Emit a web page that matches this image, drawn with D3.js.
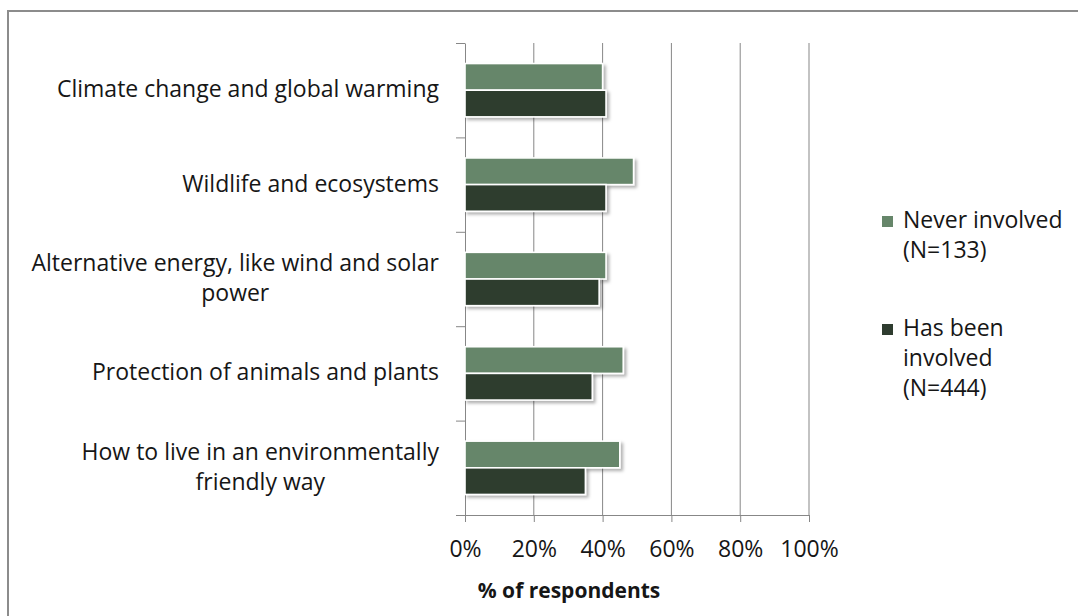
<!DOCTYPE html>
<html>
<head>
<meta charset="utf-8">
<script src="https://cdn.jsdelivr.net/npm/d3@7"></script>
<style>
  html, body { margin: 0; padding: 0; background: #fff; overflow: hidden; }
  svg { display: block; }
  text { font-family: "Open Sans", Lato, sans-serif; fill: #161616; }
</style>
</head>
<body>
<svg id="chart" width="1078" height="616"></svg>
<script>
// Topics asked about (top to bottom), each label split into its display lines
const categories = [
  "Climate change and global warming",
  "Wildlife and ecosystems",
  "Alternative energy, like wind and solar power",
  "Protection of animals and plants",
  "How to live in an environmentally friendly way"
];
const categoryLines = [
  ["Climate change and global warming"],
  ["Wildlife and ecosystems"],
  ["Alternative energy, like wind and solar", "power"],
  ["Protection of animals and plants"],
  ["How to live in an environmentally", "friendly way"]
];
const seriesNames = ["Never involved", "Has been involved"];
const seriesLegend = [["Never involved", "(N=133)"], ["Has been", "involved", "(N=444)"]];
const neverInvolved = [40, 49, 41, 46, 45];
const hasBeenInvolved = [41, 41, 39, 37, 35];
const xTicks = [0, 20, 40, 60, 80, 100];
const xTitle = "% of respondents";

const colors = ["#66866a", "#2e3c2f"];
const gridColor = "#878787";
const labelSize = "23px";

const svg = d3.select("#chart");

// outer frame
svg.append("rect")
  .attr("x", 8).attr("y", 11)
  .attr("width", 1200).attr("height", 800)
  .attr("fill", "none").attr("stroke", "#8c8c8c").attr("stroke-width", 2);

const defs = svg.append("defs");
const shadow = defs.append("filter").attr("id", "barShadow")
  .attr("x", "-10%").attr("y", "-30%").attr("width", "130%").attr("height", "180%");
shadow.append("feDropShadow")
  .attr("dx", 2.5).attr("dy", 2.5).attr("stdDeviation", 1.6)
  .attr("flood-color", "#000").attr("flood-opacity", 0.3);

const plot = { left: 465, right: 809, top: 43, bottom: 515 };

const x = d3.scaleLinear().domain([0, 100]).range([plot.left, plot.right]);
const y = d3.scaleBand().domain(categories).range([plot.top, plot.bottom]).paddingInner(0).paddingOuter(0);
const bandH = y.bandwidth();
const inner = d3.scaleBand().domain(seriesNames)
  .range([0, bandH]).paddingOuter(0.77).paddingInner(0);

// vertical gridlines
svg.append("g").selectAll("line")
  .data(xTicks.filter(d => d > 0))
  .join("line")
  .attr("x1", d => x(d)).attr("x2", d => x(d))
  .attr("y1", plot.top).attr("y2", plot.bottom)
  .attr("stroke", gridColor).attr("stroke-width", 1);

// category axis: ticks on band boundaries
const boundary = d3.scaleLinear().domain([0, categories.length]).range([plot.top, plot.bottom]);
const yAxis = svg.append("g")
  .attr("transform", `translate(${plot.left},0)`)
  .call(d3.axisLeft(boundary).ticks(categories.length).tickSize(9).tickFormat("").tickSizeOuter(0));
yAxis.selectAll("path, line").attr("stroke", gridColor).attr("stroke-width", 1);

// value axis
const xAxis = svg.append("g")
  .attr("transform", `translate(0,${plot.bottom})`)
  .call(d3.axisBottom(x).tickValues(xTicks).tickSize(7).tickSizeOuter(0).tickFormat(d => d + "%"));
xAxis.selectAll("path, line").attr("stroke", gridColor).attr("stroke-width", 1);
xAxis.selectAll("text")
  .attr("y", 42).attr("dy", 0)
  .style("font-size", labelSize).style("font-family", "'Open Sans', sans-serif").style("fill", "#161616");

// bars
const rows = categories.map((c, i) => ({ c, vals: [neverInvolved[i], hasBeenInvolved[i]] }));
const barG = svg.append("g");
rows.forEach(r => {
  r.vals.forEach((v, k) => {
    barG.append("rect")
      .attr("x", x(0))
      .attr("y", y(r.c) + inner(seriesNames[k]))
      .attr("width", x(v) - x(0))
      .attr("height", inner.bandwidth())
      .attr("fill", colors[k])
      .attr("stroke", "#fff").attr("stroke-width", 1.6)
      .attr("filter", "url(#barShadow)");
  });
});

// category labels: multi-line, centred lines, block right-aligned to the axis
const lineGap = 30;
categories.forEach((c, i) => {
  const lines = categoryLines[i];
  const g = svg.append("g");
  const cy = y(c) + bandH / 2;
  const texts = lines.map((t, j) => g.append("text")
    .attr("y", cy + 7 + (j - (lines.length - 1) / 2) * lineGap)
    .attr("text-anchor", "middle")
    .style("font-size", labelSize)
    .text(t));
  const w = d3.max(texts, t => t.node().getComputedTextLength());
  texts.forEach(t => t.attr("x", 439 - w / 2));
});

// axis title
svg.append("text")
  .attr("x", 569).attr("y", 598)
  .attr("text-anchor", "middle")
  .style("font-size", "21px").style("font-weight", "bold")
  .text(xTitle);

// legend
const legendTop = [228, 336];
seriesLegend.forEach((lines, k) => {
  const g = svg.append("g");
  g.append("rect")
    .attr("x", 882).attr("y", legendTop[k] - 12)
    .attr("width", 11).attr("height", 11)
    .attr("fill", colors[k]);
  lines.forEach((t, j) => {
    g.append("text")
      .attr("x", 903).attr("y", legendTop[k] + j * 30)
      .style("font-size", labelSize)
      .text(t);
  });
});
</script>
</body>
</html>
